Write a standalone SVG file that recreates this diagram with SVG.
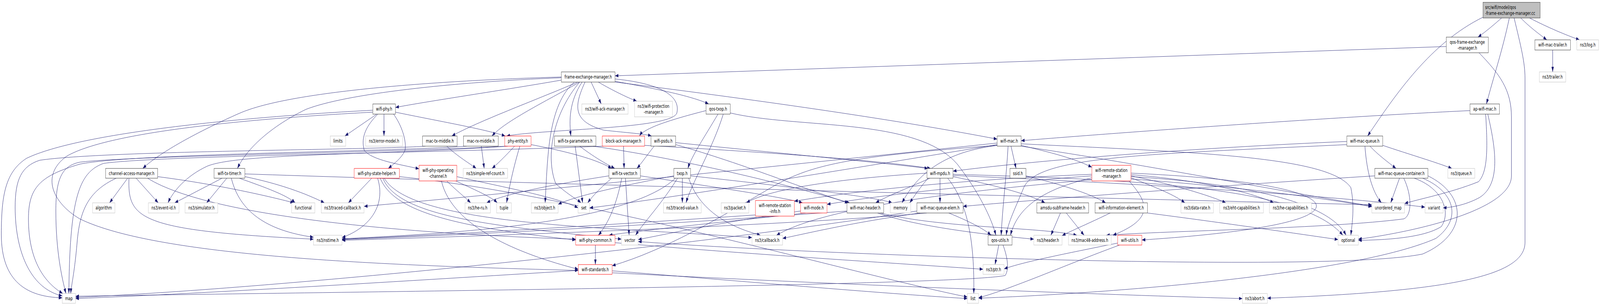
<svg xmlns="http://www.w3.org/2000/svg" width="6017" height="783" viewBox="0 0 6017 783" preserveAspectRatio="none" style="width:100%;height:100%">
<defs>
<marker id="a" viewBox="0 0 13 9" refX="13" refY="4.5" markerWidth="13" markerHeight="9" markerUnits="userSpaceOnUse" orient="auto"><path d="M0,0 L13,4.5 L0,9 z" fill="#191970"/></marker>
</defs>
<style>
rect{fill:#fff;stroke:#333;stroke-width:1}
.g rect{stroke:#bfbfbf}
.r rect{stroke:#ff0000}
.root rect{fill:#bfbfbf}
text{font-family:"DejaVu Sans",sans-serif;font-size:12.8px;text-anchor:middle;fill:#000}
.root text{text-anchor:start}
#edges path{fill:none;stroke:#191970;stroke-width:1;marker-end:url(#a)}
</style>
<rect x="0" y="0" width="6017" height="783" style="fill:#fff;stroke:none"/>
<g id="edges">
<path d="M5647,46 C5620,62 5590,80 5558,95"/>
<path d="M5676,46 C5650,130 5615,200 5590,266"/>
<path d="M5577,44 C5380,110 5250,240 5143,348"/>
<path d="M5719,46 C5750,68 5790,88 5817,102"/>
<path d="M5752,46 C5820,70 5890,90 5940,102"/>
<path d="M5694,46 C5720,120 5735,160 5735,200 L5735,620 C5735,700 5500,745 4766,763"/>
<path d="M5439,119 L2313,194"/>
<path d="M5562,135 C5640,190 5684,230 5684,300 L5684,450 C5684,540 5300,595 5108,612"/>
<path d="M5839,128 L5839,184"/>
<path d="M5528,283 C5000,300 4200,340 3840,360"/>
<path d="M5587,292 C5595,380 5595,440 5560,465 C5450,495 5330,510 5282,521"/>
<path d="M5595,292 C5625,380 5645,470 5565,505 C5520,522 5470,530 5427,532"/>
<path d="M5152,374 C5180,395 5220,415 5250,431"/>
<path d="M5200,372 C5300,395 5400,415 5460,431"/>
<path d="M5133,374 C5140,440 5160,490 5195,519"/>
<path d="M5065,362 C4500,378 3900,410 3584,438"/>
<path d="M5065,370 C4300,395 3900,400 3850,480 C3820,530 3790,570 3784,602"/>
<path d="M5263,456 L5230,519"/>
<path d="M5170,450 C4700,470 4000,505 3622,528"/>
<path d="M5350,456 C5470,490 5500,560 5400,610 C5100,700 4200,750 3680,763"/>
<path d="M5318,456 C5420,480 5460,540 5420,580 C5350,610 5200,614 5108,615"/>
<path d="M5279,456 C5310,500 5310,550 5280,560 C5000,585 4400,590 4160,602"/>
<path d="M5370,450 C5520,500 5520,600 5350,650 C5000,700 3000,650 2400,618"/>
<path d="M3791,374 C3785,450 3770,530 3765,602"/>
<path d="M3802,374 L3821,431"/>
<path d="M3840,372 C3950,390 4040,405 4106,428"/>
<path d="M3750,372 C3200,400 3050,420 2900,480 C2700,560 2500,640 2302,680"/>
<path d="M3750,366 C3000,420 2000,490 1369,528"/>
<path d="M3750,370 C3300,420 2600,500 2217,532"/>
<path d="M3840,368 C4500,390 5000,400 5080,480 C5095,530 5085,570 5080,602"/>
<path d="M3752,372 C3600,385 3470,420 3392,519"/>
<path d="M3840,374 C4300,420 4900,500 5159,527"/>
<path d="M4253,455 C4350,480 4420,500 4456,519"/>
<path d="M4253,450 C4400,470 4550,500 4610,519"/>
<path d="M4253,447 C4500,460 4700,490 4790,519"/>
<path d="M4246,463 C4320,520 4340,560 4185,602"/>
<path d="M4253,443 C4800,460 4960,500 4950,530 C4930,580 4500,605 4294,614"/>
<path d="M4253,452 C4700,470 5000,520 5062,602"/>
<path d="M4253,458 C4700,480 5000,510 5159,529"/>
<path d="M4106,450 C3700,470 3300,500 3110,523"/>
<path d="M4106,446 C3600,460 3200,490 2987,515"/>
<path d="M4106,455 C3950,480 3830,520 3800,602"/>
<path d="M4106,460 C3600,490 3100,530 2920,602"/>
<path d="M3535,456 L3535,519"/>
<path d="M3497,456 C3420,480 3340,500 3293,519"/>
<path d="M3584,452 C3750,475 3880,500 3930,519"/>
<path d="M3564,456 C3640,520 3665,620 3662,751"/>
<path d="M3490,456 C3460,480 3440,500 3421,519"/>
<path d="M3486,443 C3200,455 2900,480 2807,519"/>
<path d="M3584,446 C4300,460 4900,480 5050,602"/>
<path d="M3584,449 C4300,470 5000,500 5359,530"/>
<path d="M3568,545 C3640,565 3700,585 3727,602"/>
<path d="M3485,545 C3000,575 2000,600 1286,615"/>
<path d="M3460,545 C3200,570 3050,595 2943,610"/>
<path d="M3448,540 C2500,640 1000,740 284,761"/>
<path d="M3858,450 C3980,470 4100,495 4158,519"/>
<path d="M3988,545 L3952,602"/>
<path d="M4010,545 L4077,602"/>
<path d="M4175,545 C4100,570 4030,590 3994,603"/>
<path d="M4315,545 C4600,570 4900,600 5032,613"/>
<path d="M3300,545 C3450,580 3700,600 3888,612"/>
<path d="M3310,545 C3550,585 3900,580 4050,602"/>
<path d="M3185,540 C2500,575 1800,600 1286,613"/>
<path d="M3756,627 L3742,677"/>
<path d="M3772,627 C3790,660 3795,690 3780,705 C3600,730 1500,745 284,758"/>
<path d="M4203,622 C4000,650 3850,670 3776,688"/>
<path d="M4210,627 C4000,680 3800,740 3680,762"/>
<path d="M2175,692 C1500,720 800,750 284,764"/>
<path d="M2302,693 C2800,720 3300,750 3638,764"/>
<path d="M2302,698 C3200,730 4200,755 4672,764"/>
<path d="M2239,627 L2239,677"/>
<path d="M2313,621 C2800,650 3400,675 3697,689"/>
<path d="M3030,545 C2700,570 2400,590 2290,602"/>
<path d="M3011,540 C2700,570 2500,600 2400,613"/>
<path d="M2338,456 C2320,520 2290,570 2250,602"/>
<path d="M2352,456 L2366,602"/>
<path d="M2408,450 C2700,480 2950,505 3018,519"/>
<path d="M2290,450 C2100,470 1900,495 1830,519"/>
<path d="M2300,456 C2260,480 2230,500 2210,519"/>
<path d="M2566,456 L2566,519"/>
<path d="M2534,450 C2300,480 2150,505 2099,523"/>
<path d="M2548,456 C2490,520 2420,570 2390,602"/>
<path d="M2540,456 C2350,580 1600,600 1286,611"/>
<path d="M2597,450 C3000,480 3300,505 3355,519"/>
<path d="M2590,456 C2640,560 2800,590 2860,602"/>
<path d="M2655,283 C2500,310 2420,330 2405,348"/>
<path d="M2700,292 C2650,350 2600,400 2587,431"/>
<path d="M2720,292 C2680,380 2600,470 2580,519"/>
<path d="M2746,289 C3000,330 3450,300 3600,420 C3680,490 3730,560 3745,602"/>
<path d="M2111,205 C1900,230 1600,260 1487,275"/>
<path d="M2111,197 C1700,205 1100,230 900,290 C750,335 600,390 537,431"/>
<path d="M2111,199 C1700,210 1300,240 1150,280 C1000,330 920,390 893,431"/>
<path d="M2173,210 C2000,260 1800,310 1699,348"/>
<path d="M2180,210 C2050,260 1900,310 1850,348"/>
<path d="M2189,210 C2140,260 2140,310 2147,348"/>
<path d="M2223,210 L2261,266"/>
<path d="M2250,210 C2300,230 2360,250 2395,259"/>
<path d="M2313,208 C2450,225 2600,245 2665,266"/>
<path d="M2313,210 C2900,260 3400,310 3750,356"/>
<path d="M2200,210 C2160,270 2150,310 2270,333 C2360,340 2420,342 2450,348"/>
<path d="M2160,210 C2060,270 2060,400 2050,519"/>
<path d="M2180,210 C2080,290 2050,400 2090,470 C2140,500 2170,510 2185,519"/>
<path d="M2313,202 C2500,215 2560,250 2545,290 C2520,330 2050,330 1905,348"/>
<path d="M1417,292 L1297,348"/>
<path d="M1444,292 L1444,348"/>
<path d="M1487,287 C1650,310 1820,330 1900,348"/>
<path d="M1421,292 C1380,320 1355,350 1370,385 C1400,410 1500,420 1576,432"/>
<path d="M1480,292 C1510,320 1530,360 1523,385 C1510,405 1480,420 1460,431"/>
<path d="M1402,282 C900,300 300,340 100,405 C20,440 5,500 5,600 C5,720 100,760 234,762"/>
<path d="M1402,287 C900,305 400,340 250,400 C150,450 200,520 300,560 C600,660 1500,680 2175,692"/>
<path d="M1600,374 C1400,384 400,385 150,410 C80,425 57,460 57,530 C57,650 120,740 234,757"/>
<path d="M1755,374 C1500,388 500,392 300,420 C150,450 107,480 107,560 C107,660 160,720 236,751"/>
<path d="M1905,374 C1500,390 500,398 300,415 C230,425 210,460 210,540 C210,640 232,710 248,751"/>
<path d="M2270,374 C1600,392 600,398 390,418 C300,440 262,500 259,751"/>
<path d="M1680,374 C1720,400 1770,420 1791,431"/>
<path d="M1810,374 L1821,431"/>
<path d="M1935,374 C1900,400 1870,420 1850,431"/>
<path d="M1955,374 C1930,430 1915,480 1905,519"/>
<path d="M1997,370 C2150,390 2250,410 2300,431"/>
<path d="M1910,374 C1400,398 900,392 780,425 C700,450 650,490 632,519"/>
<path d="M1398,456 L1310,519"/>
<path d="M1420,456 C1450,520 1400,580 1286,608"/>
<path d="M1430,456 C1480,540 1700,580 2165,614"/>
<path d="M1440,456 C1500,560 1900,580 2337,612"/>
<path d="M1445,456 C1550,580 2300,580 2828,608"/>
<path d="M1502,452 C2200,500 3200,700 3638,760"/>
<path d="M1680,463 C1720,490 1750,505 1770,519"/>
<path d="M1714,463 C1800,490 1850,505 1870,519"/>
<path d="M1718,452 C1900,480 2100,505 2174,532"/>
<path d="M1660,463 C1700,580 1950,650 2175,689"/>
<path d="M480,456 L412,519"/>
<path d="M512,456 L595,519"/>
<path d="M437,456 C330,490 300,540 290,620 C280,700 268,730 266,751"/>
<path d="M485,456 C480,560 520,590 1179,612"/>
<path d="M555,456 C800,560 1600,600 2165,612"/>
<path d="M593,452 C800,470 1000,500 1105,519"/>
<path d="M835,456 L657,519"/>
<path d="M853,456 L777,519"/>
<path d="M870,456 C900,540 1000,590 1179,607"/>
<path d="M900,456 C1000,480 1080,500 1110,519"/>
<path d="M921,452 C1050,470 1150,495 1220,519"/>
<path d="M921,445 C2000,470 4000,505 5159,524"/>
<path d="M2163,374 L2191,519"/>
<path d="M2180,374 C2230,400 2280,420 2312,431"/>
<path d="M2230,374 C2600,410 3000,480 3195,519"/>
<path d="M2345,374 L2347,431"/>
<path d="M2424,372 C2900,390 3300,410 3500,431"/>
<path d="M2460,374 C2430,400 2410,420 2395,431"/>
<path d="M2541,370 C2800,420 3050,490 3190,519"/>
<path d="M2541,365 C2900,390 3300,415 3490,431"/>
<path d="M2841,550 C2300,575 1700,600 1286,612"/>
</g>
<g id="n_root" class="root"><rect x="5577" y="6" width="215" height="40"/><text x="5585" y="23">src/wifi/model/qos</text><text x="5585" y="38">-frame-exchange-manager.cc</text></g>
<g id="n_qfemh"><rect x="5439" y="95" width="158" height="40"/><text x="5518" y="112">qos-frame-exchange</text><text x="5518" y="127">-manager.h</text></g>
<g id="n_trailerh"><rect x="5772" y="102" width="134" height="26"/><text x="5839" y="119.5">wifi-mac-trailer.h</text></g>
<g id="n_log" class="g"><rect x="5930" y="102" width="82" height="26"/><text x="5971" y="119.5">ns3/log.h</text></g>
<g id="n_fem"><rect x="2111" y="184" width="202" height="26"/><text x="2212" y="201.5">frame-exchange-manager.h</text></g>
<g id="n_ns3trailer" class="g"><rect x="5789" y="184" width="99" height="26"/><text x="5838.5" y="201.5">ns3/trailer.h</text></g>
<g id="n_wifiphy"><rect x="1402" y="266" width="85" height="26"/><text x="1444.5" y="283.5">wifi-phy.h</text></g>
<g id="n_ackmgr" class="g"><rect x="2188" y="266" width="174" height="26"/><text x="2275" y="283.5">ns3/wifi-ack-manager.h</text></g>
<g id="n_protmgr" class="g"><rect x="2386" y="259" width="143" height="40"/><text x="2457.5" y="276">ns3/wifi-protection</text><text x="2457.5" y="291">-manager.h</text></g>
<g id="n_qostxop"><rect x="2655" y="266" width="91" height="26"/><text x="2700.5" y="283.5">qos-txop.h</text></g>
<g id="n_apwifimac"><rect x="5528" y="266" width="111" height="26"/><text x="5583.5" y="283.5">ap-wifi-mac.h</text></g>
<g id="n_limits" class="g"><rect x="1242" y="348" width="58" height="26"/><text x="1271" y="365.5">limits</text></g>
<g id="n_errmodel" class="g"><rect x="1375" y="348" width="139" height="26"/><text x="1444.5" y="365.5">ns3/error-model.h</text></g>
<g id="n_mactx"><rect x="1589" y="348" width="130" height="26"/><text x="1654" y="365.5">mac-tx-middle.h</text></g>
<g id="n_macrx"><rect x="1743" y="348" width="131" height="26"/><text x="1808.5" y="365.5">mac-rx-middle.h</text></g>
<g id="n_phyentity" class="r"><rect x="1898" y="348" width="99" height="26"/><text x="1947.5" y="365.5">phy-entity.h</text></g>
<g id="n_txparams"><rect x="2085" y="348" width="156" height="26"/><text x="2163" y="365.5">wifi-tx-parameters.h</text></g>
<g id="n_bam" class="r"><rect x="2265" y="348" width="159" height="26"/><text x="2344.5" y="365.5">block-ack-manager.h</text></g>
<g id="n_psdu"><rect x="2448" y="348" width="93" height="26"/><text x="2494.5" y="365.5">wifi-psdu.h</text></g>
<g id="n_wifimac"><rect x="3750" y="348" width="90" height="26"/><text x="3795" y="365.5">wifi-mac.h</text></g>
<g id="n_macqueue"><rect x="5065" y="348" width="135" height="26"/><text x="5132.5" y="365.5">wifi-mac-queue.h</text></g>
<g id="n_cam"><rect x="397" y="431" width="196" height="25"/><text x="495" y="448">channel-access-manager.h</text></g>
<g id="n_txtimer"><rect x="805" y="431" width="116" height="25"/><text x="863" y="448">wifi-tx-timer.h</text></g>
<g id="n_statehelper" class="r"><rect x="1332" y="431" width="170" height="25"/><text x="1417" y="448">wifi-phy-state-helper.h</text></g>
<g id="n_opchan" class="r"><rect x="1576" y="423" width="142" height="40"/><text x="1647" y="440">wifi-phy-operating</text><text x="1647" y="455">-channel.h</text></g>
<g id="n_simpleref" class="g"><rect x="1742" y="431" width="167" height="25"/><text x="1825.5" y="448">ns3/simple-ref-count.h</text></g>
<g id="n_txvector"><rect x="2290" y="431" width="118" height="25"/><text x="2349" y="448">wifi-tx-vector.h</text></g>
<g id="n_txop"><rect x="2534" y="431" width="63" height="25"/><text x="2565.5" y="448">txop.h</text></g>
<g id="n_mpdu"><rect x="3486" y="431" width="98" height="25"/><text x="3535" y="448">wifi-mpdu.h</text></g>
<g id="n_ssid"><rect x="3798" y="431" width="60" height="25"/><text x="3828" y="448">ssid.h</text></g>
<g id="n_rsm" class="r"><rect x="4106" y="423" width="147" height="40"/><text x="4179.5" y="440">wifi-remote-station</text><text x="4179.5" y="455">-manager.h</text></g>
<g id="n_queuecont"><rect x="5170" y="431" width="200" height="25"/><text x="5270" y="448">wifi-mac-queue-container.h</text></g>
<g id="n_queue" class="g"><rect x="5445" y="431" width="101" height="25"/><text x="5495.5" y="448">ns3/queue.h</text></g>
<g id="n_algorithm" class="g"><rect x="348" y="519" width="84" height="26"/><text x="390" y="536.5">algorithm</text></g>
<g id="n_eventid" class="g"><rect x="558" y="519" width="115" height="26"/><text x="615.5" y="536.5">ns3/event-id.h</text></g>
<g id="n_simulator" class="g"><rect x="696" y="519" width="123" height="26"/><text x="757.5" y="536.5">ns3/simulator.h</text></g>
<g id="n_functional" class="g"><rect x="1097" y="519" width="87" height="26"/><text x="1140.5" y="536.5">functional</text></g>
<g id="n_tracedcb" class="g"><rect x="1208" y="519" width="161" height="26"/><text x="1288.5" y="536.5">ns3/traced-callback.h</text></g>
<g id="n_heru" class="g"><rect x="1749" y="519" width="95" height="26"/><text x="1796.5" y="536.5">ns3/he-ru.h</text></g>
<g id="n_tuple" class="g"><rect x="1868" y="519" width="55" height="26"/><text x="1895.5" y="536.5">tuple</text></g>
<g id="n_object" class="g"><rect x="1998" y="519" width="101" height="26"/><text x="2048.5" y="536.5">ns3/object.h</text></g>
<g id="n_set" class="g"><rect x="2174" y="519" width="43" height="26"/><text x="2195.5" y="536.5">set</text></g>
<g id="n_tracedval" class="g"><rect x="2495" y="519" width="142" height="26"/><text x="2566" y="536.5">ns3/traced-value.h</text></g>
<g id="n_packet" class="g"><rect x="2712" y="519" width="104" height="26"/><text x="2764" y="536.5">ns3/packet.h</text></g>
<g id="n_rsinfo" class="r"><rect x="2841" y="513" width="146" height="40"/><text x="2914" y="530">wifi-remote-station</text><text x="2914" y="545">-info.h</text></g>
<g id="n_wifimode" class="r"><rect x="3011" y="519" width="99" height="26"/><text x="3060.5" y="536.5">wifi-mode.h</text></g>
<g id="n_machdr"><rect x="3185" y="519" width="138" height="26"/><text x="3254" y="536.5">wifi-mac-header.h</text></g>
<g id="n_memory" class="g"><rect x="3348" y="519" width="77" height="26"/><text x="3386.5" y="536.5">memory</text></g>
<g id="n_qelem"><rect x="3448" y="519" width="174" height="26"/><text x="3535" y="536.5">wifi-mac-queue-elem.h</text></g>
<g id="n_amsdu"><rect x="3899" y="519" width="195" height="26"/><text x="3996.5" y="536.5">amsdu-subframe-header.h</text></g>
<g id="n_ie"><rect x="4118" y="519" width="197" height="26"/><text x="4216.5" y="536.5">wifi-information-element.h</text></g>
<g id="n_datarate" class="g"><rect x="4441" y="519" width="122" height="26"/><text x="4502" y="536.5">ns3/data-rate.h</text></g>
<g id="n_eht" class="g"><rect x="4587" y="519" width="164" height="26"/><text x="4669" y="536.5">ns3/eht-capabilities.h</text></g>
<g id="n_hecap" class="g"><rect x="4774" y="519" width="158" height="26"/><text x="4853" y="536.5">ns3/he-capabilities.h</text></g>
<g id="n_umap" class="g"><rect x="5159" y="519" width="123" height="26"/><text x="5220.5" y="536.5">unordered_map</text></g>
<g id="n_variant" class="g"><rect x="5359" y="519" width="68" height="26"/><text x="5393" y="536.5">variant</text></g>
<g id="n_nstime" class="g"><rect x="1179" y="602" width="107" height="25"/><text x="1232.5" y="619">ns3/nstime.h</text></g>
<g id="n_phycommon" class="r"><rect x="2165" y="602" width="148" height="25"/><text x="2239" y="619">wifi-phy-common.h</text></g>
<g id="n_vector" class="g"><rect x="2337" y="602" width="63" height="25"/><text x="2368.5" y="619">vector</text></g>
<g id="n_callback" class="g"><rect x="2828" y="602" width="115" height="25"/><text x="2885.5" y="619">ns3/callback.h</text></g>
<g id="n_qosutils"><rect x="3716" y="602" width="90" height="25"/><text x="3761" y="619">qos-utils.h</text></g>
<g id="n_header" class="g"><rect x="3888" y="602" width="106" height="25"/><text x="3941" y="619">ns3/header.h</text></g>
<g id="n_mac48" class="g"><rect x="4018" y="602" width="161" height="25"/><text x="4098.5" y="619">ns3/mac48-address.h</text></g>
<g id="n_wifiutils" class="r"><rect x="4203" y="602" width="91" height="25"/><text x="4248.5" y="619">wifi-utils.h</text></g>
<g id="n_optional" class="g"><rect x="5032" y="602" width="76" height="25"/><text x="5070" y="619">optional</text></g>
<g id="n_standards" class="r"><rect x="2175" y="677" width="127" height="25"/><text x="2238.5" y="694">wifi-standards.h</text></g>
<g id="n_ptr" class="g"><rect x="3697" y="677" width="79" height="25"/><text x="3736.5" y="694">ns3/ptr.h</text></g>
<g id="n_map" class="g"><rect x="234" y="751" width="50" height="25"/><text x="259" y="768">map</text></g>
<g id="n_list" class="g"><rect x="3638" y="751" width="42" height="25"/><text x="3659" y="768">list</text></g>
<g id="n_abort" class="g"><rect x="4672" y="751" width="94" height="25"/><text x="4719" y="768">ns3/abort.h</text></g>
</svg>
